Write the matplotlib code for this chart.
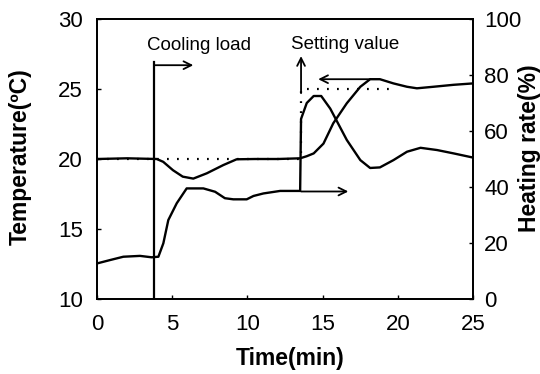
import matplotlib
matplotlib.use('Agg')
import matplotlib.pyplot as plt

plt.rcParams['font.family'] = ['Liberation Sans', 'DejaVu Sans']

# --- data ---
# temperature (left axis, degC)
temp_time = [0, 2, 3.97, 4.4, 5.05, 5.7, 6.4, 7.3, 8.4, 9.28, 10.5, 12, 13.5,
             13.94, 14.4, 15.05, 15.7, 16.6, 17.5, 18.15, 18.8, 19.7, 20.6,
             21.26, 22.36, 23.7, 25]
temp_vals = [20, 20.05, 20, 19.8, 19.2, 18.74, 18.6, 18.98, 19.57, 19.98, 20, 20, 20.05,
             20.2, 20.4, 21.1, 22.55, 23.98, 25.16, 25.7, 25.7, 25.4, 25.16,
             25.05, 25.16, 25.3, 25.4]

# heating rate (right axis, %)
heat_time = [0, 0.86, 1.75, 2.86, 3.63, 4.08, 4.41, 4.74, 5.3, 5.96, 7.07, 7.85,
             8.5, 9.06, 9.95, 10.4, 11.06, 12.17, 13.5, 13.56, 13.94, 14.4, 14.9,
             15.5, 16.6, 17.5, 18.15, 18.8, 19.7, 20.6, 21.5, 22.6, 23.7, 25]
heat_vals = [12.7, 13.9, 15.1, 15.4, 14.9, 15.1, 19.9, 28.2, 34.2, 39.5, 39.5, 38.3,
             36, 35.6, 35.6, 36.8, 37.7, 38.6, 38.6, 64.3, 70, 72.5, 72.5,
             68, 56.8, 49.6, 46.8, 47, 49.6, 52.6, 54, 53.2, 52, 50.5]

# set point (dotted)
sp_time = [0, 13.56, 13.56, 19.4]
sp_vals = [20, 20, 25, 25]

load_time = 3.8
setting_time = 13.56

fig = plt.figure(figsize=(5.4, 3.74), dpi=100)
ax = fig.add_axes([0.1796, 0.2005, 0.6967, 0.7487])
ax2 = ax.twinx()

ax.plot(sp_time, sp_vals, color='black', lw=1.6, linestyle=(0, (0.8, 3.7)))
ax.plot(temp_time, temp_vals, color='black', lw=1.7)
ax2.plot(heat_time, heat_vals, color='black', lw=1.7)

# cooling load marker line
ax.plot([load_time, load_time], [10, 26.95], color='black', lw=1.6)

arrow = dict(arrowstyle='->', color='black', lw=1.3, shrinkA=0, shrinkB=0,
             mutation_scale=14)
ax.annotate('', xy=(6.4, 26.7), xytext=(load_time, 26.7), arrowprops=arrow)
ax.annotate('', xy=(setting_time, 27.35), xytext=(setting_time, 24.7), arrowprops=arrow)
ax.annotate('', xy=(14.7, 25.7), xytext=(18.15, 25.7), arrowprops=arrow)
ax.annotate('', xy=(16.7, 17.68), xytext=(setting_time, 17.68), arrowprops=arrow)

ax.text(3.3, 28.1, 'Cooling load', fontsize=13.5, va='center', ha='left')
ax.text(12.9, 28.2, 'Setting value', fontsize=13.5, va='center', ha='left')

ax.set_xlim(0, 25)
ax.set_ylim(10, 30)
ax2.set_ylim(0, 100)
ax.set_xticks([0, 5, 10, 15, 20, 25])
ax.set_yticks([10, 15, 20, 25, 30])
ax2.set_yticks([0, 20, 40, 60, 80, 100])

ax.tick_params(axis='both', direction='in', length=3, width=1, labelsize=16, pad=10)
ax.tick_params(axis='x', pad=11)
ax2.tick_params(axis='y', direction='in', length=3, width=1, labelsize=16, pad=8)

for a in (ax, ax2):
    for s in a.spines.values():
        s.set_linewidth(1.3)

ax.set_xlabel('Time(min)', fontsize=16.5, fontweight='bold')
ax.set_ylabel('Temperature(ºC)', fontsize=16.5, fontweight='bold')
ax2.set_ylabel('Heating rate(%)', fontsize=16.5, fontweight='bold')
ax.xaxis.set_label_coords(0.513, -0.17)
ax.yaxis.set_label_coords(-0.173, 0.51)
ax2.yaxis.set_label_coords(1.12, 0.537)

fig.savefig('out.png', dpi=100)
